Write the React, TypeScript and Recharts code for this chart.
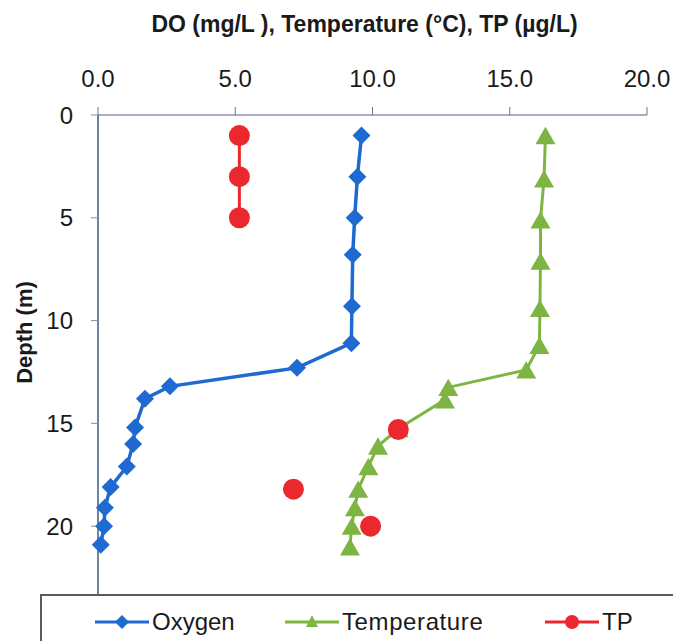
import React from 'react';
import { ScatterChart, Scatter, XAxis, YAxis, Legend } from 'recharts';

// ---- data ----
const oxygenDepth = [1.0, 3.0, 5.0, 6.8, 9.3, 11.1, 12.3, 13.2, 13.8, 15.2, 16.0, 17.1, 18.1, 19.1, 20.0, 20.9];
const oxygenValue = [9.6, 9.45, 9.35, 9.28, 9.25, 9.23, 7.25, 2.62, 1.71, 1.35, 1.28, 1.05, 0.46, 0.25, 0.22, 0.1];

const tempDepth = [1.0, 3.1, 5.1, 7.1, 9.4, 11.2, 12.4, 13.25, 13.85, 15.25, 16.1, 17.1, 18.2, 19.1, 20.0, 21.0];
const tempValue = [16.3, 16.25, 16.12, 16.12, 16.1, 16.08, 15.6, 12.76, 12.64, 10.95, 10.2, 9.85, 9.48, 9.36, 9.24, 9.18];

const tpProfileDepth = [1.0, 3.0, 5.0];
const tpProfileValue = [5.15, 5.15, 5.15];
const tpSingleDepth = [15.3, 18.2, 20.0];
const tpSingleValue = [10.94, 7.12, 9.93];

const xTicks = [0, 5, 10, 15, 20];
const yTicks = [0, 5, 10, 15, 20];
const legendNames = ['Oxygen', 'Temperature', 'TP'];

const TITLE = 'DO (mg/L ), Temperature (°C), TP (µg/L)';
const Y_LABEL = 'Depth (m)';

const BLUE = '#1f6ad0';
const GREEN = '#7db543';
const RED = '#ea282e';
const FONT = '"Liberation Sans", Arial, sans-serif';

const zip = (depths: number[], values: number[]) => depths.map((d, i) => ({ depth: d, value: values[i] }));

const oxygenData = zip(oxygenDepth, oxygenValue);
const tempData = zip(tempDepth, tempValue);
const tpProfileData = zip(tpProfileDepth, tpProfileValue);
const tpSingleData = zip(tpSingleDepth, tpSingleValue);

const Diamond = (props: any) => {
  const { cx, cy, fill } = props;
  const r = 9;
  return <polygon points={`${cx},${cy - r} ${cx + r},${cy} ${cx},${cy + r} ${cx - r},${cy}`} fill={fill} />;
};
const Triangle = (props: any) => {
  const { cx, cy, fill } = props;
  const w = 10, h = 8.7;
  return <polygon points={`${cx},${cy - h} ${cx + w},${cy + h} ${cx - w},${cy + h}`} fill={fill} />;
};
const Dot = (props: any) => {
  const { cx, cy, fill } = props;
  return <circle cx={cx} cy={cy} r={10.5} fill={fill} />;
};

const legendColors = [BLUE, GREEN, RED];
const legendWidths = [190, 260, 120];

const LegendIcon = ({ idx }: { idx: number }) => {
  const c = legendColors[idx];
  return (
    <svg width={54} height={20} style={{ display: 'block' }}>
      <line x1={0} y1={10} x2={54} y2={10} stroke={c} strokeWidth={3} />
      {idx === 0 && <polygon points="27,3 34,10 27,17 20,10" fill={c} />}
      {idx === 1 && <polygon points="27,3 33,15 21,15" fill={c} />}
      {idx === 2 && <circle cx={27} cy={10} r={7} fill={c} />}
    </svg>
  );
};

const LegendBox = () => (
  <div
    style={{
      width: 633,
      height: 47,
      boxSizing: 'border-box',
      borderTop: '2px solid #5a5a5a',
      borderLeft: '2px solid #5a5a5a',
      background: '#fff',
      display: 'flex',
      alignItems: 'center',
      paddingLeft: 53,
      paddingTop: 6,
      fontFamily: FONT,
      fontSize: 24,
      color: '#1a1a1a',
    }}
  >
    {legendNames.map((n, i) => (
      <div key={n} style={{ display: 'flex', alignItems: 'center', width: legendWidths[i] }}>
        <LegendIcon idx={i} />
        <span style={{ marginLeft: 3, letterSpacing: i === 1 ? 0.6 : 0 }}>{n}</span>
      </div>
    ))}
  </div>
);

export default function App() {
  return (
    <>
      <style>{`body{margin:8px 0 0 8px;} #root{width:665px;height:633px;}`}</style>
      <ScatterChart width={665} height={633} margin={{ top: 0, right: 26, bottom: 0, left: 0 }}>
        <XAxis
          type="number"
          dataKey="value"
          orientation="top"
          domain={[0, 20]}
          ticks={xTicks}
          tickFormatter={(v: number) => v.toFixed(1)}
          height={107}
          tickSize={8}
          tickMargin={20}
          axisLine={{ stroke: '#a9afc9', strokeWidth: 2 }}
          tickLine={{ stroke: '#707680' }}
          tick={{ fontSize: 24, fill: '#1a1a1a', fontFamily: FONT }}
          label={(p: any) => {
            const vb = p.viewBox || { x: 90, y: 0, width: 549 };
            return (
              <text
                x={vb.x + vb.width / 2 - 8}
                y={vb.y + 24}
                textAnchor="middle"
                fontFamily={FONT}
                fontSize={23}
                fontWeight="bold"
                fill="#1a1a1a"
              >
                {TITLE}
              </text>
            );
          }}
        />
        <YAxis
          type="number"
          dataKey="depth"
          reversed
          domain={[0, 23.3]}
          ticks={yTicks}
          width={90}
          tickSize={7}
          tickMargin={18}
          axisLine={{ stroke: '#3c5a87', strokeWidth: 1.5 }}
          tickLine={{ stroke: '#8a8fa0' }}
          tick={{ fontSize: 24, fill: '#1a1a1a', fontFamily: FONT }}
          label={(p: any) => {
            const vb = p.viewBox || { x: 0, y: 107, width: 90, height: 479 };
            const cx = 16;
            const cy = vb.y + vb.height / 2 - 22;
            return (
              <text
                x={cx}
                y={cy}
                transform={`rotate(-90 ${cx} ${cy})`}
                textAnchor="middle"
                dominantBaseline="central"
                fontFamily={FONT}
                fontSize={22}
                fontWeight="bold"
                fill="#1a1a1a"
              >
                {Y_LABEL}
              </text>
            );
          }}
        />
        <Scatter
          name="Oxygen"
          data={oxygenData}
          fill={BLUE}
          line={{ stroke: BLUE, strokeWidth: 3.5 }}
          shape={Diamond}
          isAnimationActive={false}
        />
        <Scatter
          name="Temperature"
          data={tempData}
          fill={GREEN}
          line={{ stroke: GREEN, strokeWidth: 3 }}
          shape={Triangle}
          isAnimationActive={false}
        />
        <Scatter
          name="TP"
          data={tpProfileData}
          fill={RED}
          line={{ stroke: RED, strokeWidth: 3 }}
          shape={Dot}
          isAnimationActive={false}
        />
        <Scatter
          name="TP single"
          data={tpSingleData}
          fill={RED}
          shape={Dot}
          legendType="none"
          isAnimationActive={false}
        />
        <Legend
          verticalAlign="bottom"
          content={() => <LegendBox />}
          wrapperStyle={{ left: 32, bottom: 0, width: 633, height: 47 }}
        />
      </ScatterChart>
    </>
  );
}
